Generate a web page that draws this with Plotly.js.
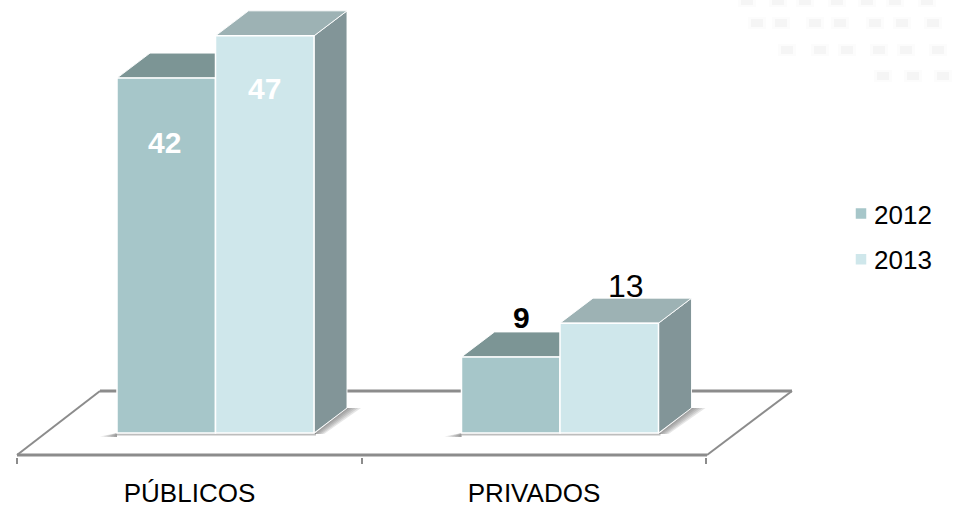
<!DOCTYPE html>
<html>
<head>
<meta charset="utf-8">
<script src="https://cdn.plot.ly/plotly-3.0.1.min.js"></script>
<style>html,body{margin:0;padding:0;background:#fff}#chart{width:953px;height:508px}</style>
</head>
<body>
<div id="chart"></div>
<script>
// Data
var categories = ['PÚBLICOS', 'PRIVADOS'];
var seriesNames = ['2012', '2013'];
var values2012 = [42, 9];
var values2013 = [47, 13];

// Colours
var frontColors = ['#A6C6C9', '#CFE7EB'];
var topColors = ['#7C9595', '#9DB2B4'];
var sideColor = '#829598';
var floorColor = '#8C8C8C';

// Scale of the fake-3D projection (pixels per axis unit)
var W = 953, H = 508, plotBottom = 457;
var pxX = 344.5, pxY = 8.45, zeroXpx = 189.5, zeroYpx = 433;
var dX = 33 / pxX, dY = 25 / pxY;
var barW = 98.5 / pxX, off = [-72.5 / pxX, 26 / pxX];

function fx(p) { return (p - zeroXpx) / pxX; }
function fy(p) { return (zeroYpx - p) / pxY; }
function poly(pts) {
  return 'M' + pts.map(function (p) { return p[0] + ',' + p[1]; }).join('L') + 'Z';
}
function face(pts, color) {
  return { type: 'path', xref: 'x', yref: 'y', layer: 'below', path: poly(pts),
    fillcolor: color, line: { color: 'rgba(255,255,255,0.9)', width: 1 } };
}
function shadow(pts, op) {
  return { type: 'path', xref: 'x', yref: 'y', layer: 'below', path: poly(pts),
    fillcolor: 'rgba(90,90,90,' + op + ')', line: { width: 0 } };
}
function seg(x0, y0, x1, y1, w) {
  return { type: 'line', xref: 'x', yref: 'y', layer: 'below',
    x0: fx(x0), y0: fy(y0), x1: fx(x1), y1: fy(y1),
    line: { color: floorColor, width: w } };
}

var shapes = [seg(17, 455, 707, 455, 3), seg(17, 455, 100, 391, 2), seg(100, 391, 792, 391, 3), seg(707, 455, 792, 391, 2)];

// Soft shadows on the floor, built from stacked translucent layers
categories.forEach(function (c, i) {
  var l = i + off[0], r = i + off[1] + barW, gr = 1 / pxY, k;
  for (k = 1; k <= 5; k++) {
    shapes.push(shadow([[l - k * 3.4 / pxX, -3.5 * gr], [l, 0], [l, -4 * gr]], 0.16));
    shapes.push(shadow([[r, -1 * gr], [r + dX, dY], [r + dX + k * 2.8 / pxX, dY], [r + k * 2 / pxX, -1 * gr]], 0.15));
  }
  shapes.push(shadow([[l, -2.5 * gr], [r + 2 / pxX, -2.5 * gr], [r + 2 / pxX, 0], [l, 0]], 0.4));
});

// Top and side faces, behind the front bars
[values2012, values2013].forEach(function (vals, s) {
  vals.forEach(function (v, i) {
    var l = i + off[s], r = l + barW;
    shapes.push(face([[r, 0], [r + dX, dY], [r + dX, v + dY], [r, v]], sideColor));
    shapes.push(face([[l, v], [l + dX, v + dY], [r + dX, v + dY], [r, v]], topColors[s]));
  });
});

function barTrace(s, vals) {
  return {
    type: 'bar', name: seriesNames[s], x: [0, 1], y: vals,
    width: barW, offset: off[s], legendgroup: seriesNames[s],
    marker: { color: frontColors[s], line: { color: '#FFFFFF', width: 1.5 } },
    hoverinfo: 'x+y+name'
  };
}

function label(cat, s, v, shiftX, shiftY, color, bold, size) {
  return {
    x: cat + off[s] + barW / 2, y: v, xshift: shiftX, yshift: shiftY, text: bold ? '<b>' + v + '</b>' : String(v),
    showarrow: false, xref: 'x', yref: 'y', yanchor: 'middle',
    font: { family: 'Liberation Sans, Arial, sans-serif', size: size, color: color }
  };
}
var annotations = [
  label(0, 0, values2012[0], -2, -64, '#FFFFFF', true, 30),
  label(0, 1, values2013[0], 0, -53, '#FFFFFF', true, 30),
  label(1, 0, values2012[1], 11, 39, '#000000', true, 30),
  label(1, 1, values2013[1], 17, 37, '#000000', false, 32)
];

// Faint background blotches in the top right corner
var blotches = [[747,1],[778,1],[805,1],[837,1],[867,1],[895,1],[927,1],
  [757,23],[781,23],[815,23],[840,23],[875,23],[902,23],[933,23],
  [787,50],[820,50],[847,50],[879,50],[906,50],[938,50],
  [883,76],[913,76],[943,76]];
blotches.forEach(function (b) {
  [[9, 6, 0.012], [6, 4, 0.028]].forEach(function (s) {
    shapes.push({ type: 'rect', xref: 'paper', yref: 'paper', layer: 'below',
      x0: (b[0] - s[0]) / W, x1: (b[0] + s[0]) / W,
      y0: 1 - (b[1] + s[1]) / plotBottom, y1: 1 - (b[1] - s[1]) / plotBottom,
      fillcolor: 'rgba(0,0,0,' + s[2] + ')', line: { width: 0 } });
  });
});

var layout = {
  width: W, height: H,
  margin: { l: 0, r: 0, t: 0, b: H - plotBottom },
  paper_bgcolor: '#FFFFFF', plot_bgcolor: '#FFFFFF',
  font: { family: 'Liberation Sans, Arial, sans-serif', color: '#000000', size: 26 },
  showlegend: true,
  legend: {
    x: 841 / W, xanchor: 'left', y: 1 - 190 / plotBottom, yanchor: 'top',
    tracegroupgap: 9, font: { size: 26, color: '#000000' }, bgcolor: 'rgba(0,0,0,0)', itemclick: false, itemdoubleclick: false
  },
  bargap: 0,
  xaxis: {
    type: 'linear', range: [fx(0), fx(W)], showgrid: false, zeroline: false, showline: false,
    tickvals: [0, 1], ticktext: categories, ticks: 'outside', ticklen: 13, tickcolor: 'rgba(0,0,0,0)',
    tickfont: { size: 26, color: '#000000' },
    minor: { tickvals: [-0.5, 0.5, 1.5], ticks: 'outside', ticklen: 6, tickwidth: 2, tickcolor: floorColor, showgrid: false }
  },
  yaxis: { range: [fy(plotBottom), fy(0)], visible: false, fixedrange: true },
  shapes: shapes,
  annotations: annotations
};

Plotly.newPlot('chart', [barTrace(0, values2012), barTrace(1, values2013)], layout, { displayModeBar: false, staticPlot: true })
  .then(function () {
    document.querySelectorAll('.legendtext').forEach(function (t) {
      t.setAttribute('x', parseFloat(t.getAttribute('x')) - 7);
    });
  });
</script>
</body>
</html>
